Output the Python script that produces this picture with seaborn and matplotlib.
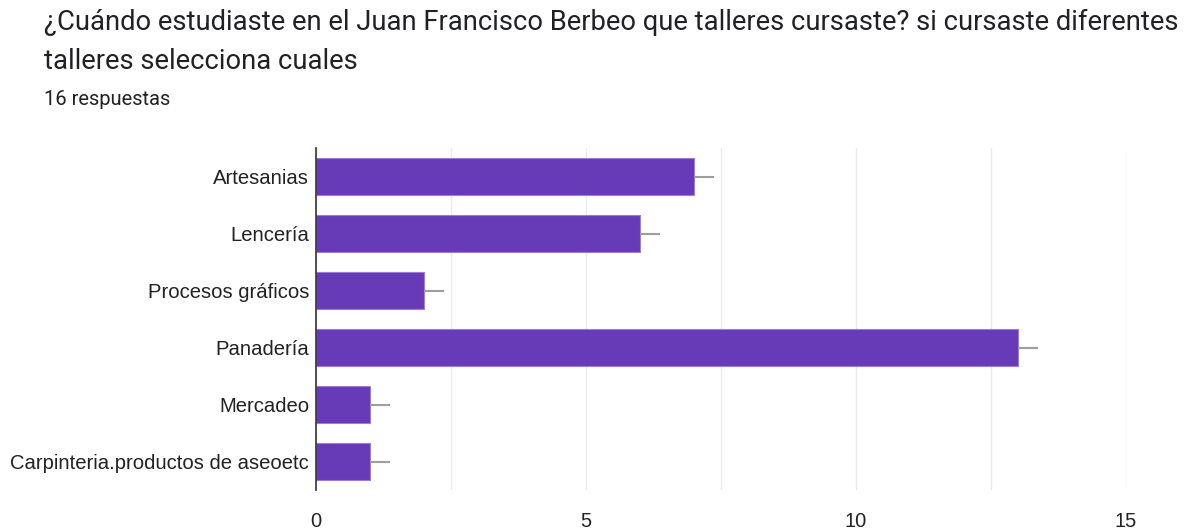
import matplotlib
matplotlib.use("Agg")
import matplotlib.pyplot as plt
import seaborn as sns
import pandas as pd
import numpy as np

categories = ["Artesanias", "Lencería", "Procesos gráficos", "Panadería", "Mercadeo",
              "Carpinteria.productos de aseoetc"]
counts = [7, 6, 2, 13, 1, 1]
xticks = [0, 5, 10, 15]
title = "¿Cuándo estudiaste en el Juan Francisco Berbeo que talleres cursaste? si cursaste diferentes\ntalleres selecciona cuales"
subtitle = "16 respuestas"

df = pd.DataFrame({"taller": categories, "n": counts})

sns.set_theme(style="white")
plt.rcParams['font.family'] = ['Liberation Sans', 'DejaVu Sans']

fig = plt.figure(figsize=(11.95, 5.29), dpi=100)
ax = fig.add_axes([316/1195, 1-490/529, (1126-316)/1195, (490-148)/529])

sns.barplot(data=df, y="taller", x="n", ax=ax, color="#673AB7", saturation=1, width=0.64,
            orient="h", edgecolor="#9c7fd3", linewidth=0.8, zorder=3)

# short grey leader lines at bar ends
for i, v in enumerate(counts):
    ax.plot([v, v + 0.37], [i, i], color="#9e9e9e", lw=1.5, zorder=4, solid_capstyle="butt")

ax.set_xlim(0, 15)
ax.set_ylim(len(categories) - 0.5, -0.5)
ax.set_xticks(xticks)
ax.set_xticks(np.arange(0, 15.01, 2.5), minor=True)
ax.grid(axis="x", which="both", color="#ebebeb", lw=1, zorder=0)
ax.tick_params(axis="x", which="both", length=0, labelsize=14.5, colors="#222222", pad=16)
ax.tick_params(axis="y", length=0, labelsize=14.6, colors="#222222", pad=5)
ax.set_xlabel("")
ax.set_ylabel("")
for s in ["top", "right", "bottom"]:
    ax.spines[s].set_visible(False)
ax.spines["left"].set_color("#333333")
ax.spines["left"].set_linewidth(1.2)
ax.spines["left"].set_zorder(5)

fig.text(44/1195, 1-9/529, title, family=["Roboto", "DejaVu Sans"], fontsize=19.7,
         color="#202124", va="top", ha="left", linespacing=1.57)
fig.text(44/1195, 1-90/529, subtitle, family=["Roboto", "DejaVu Sans"], fontsize=14.5,
         color="#202124", va="top", ha="left")

fig.savefig("out.png", dpi=100)
